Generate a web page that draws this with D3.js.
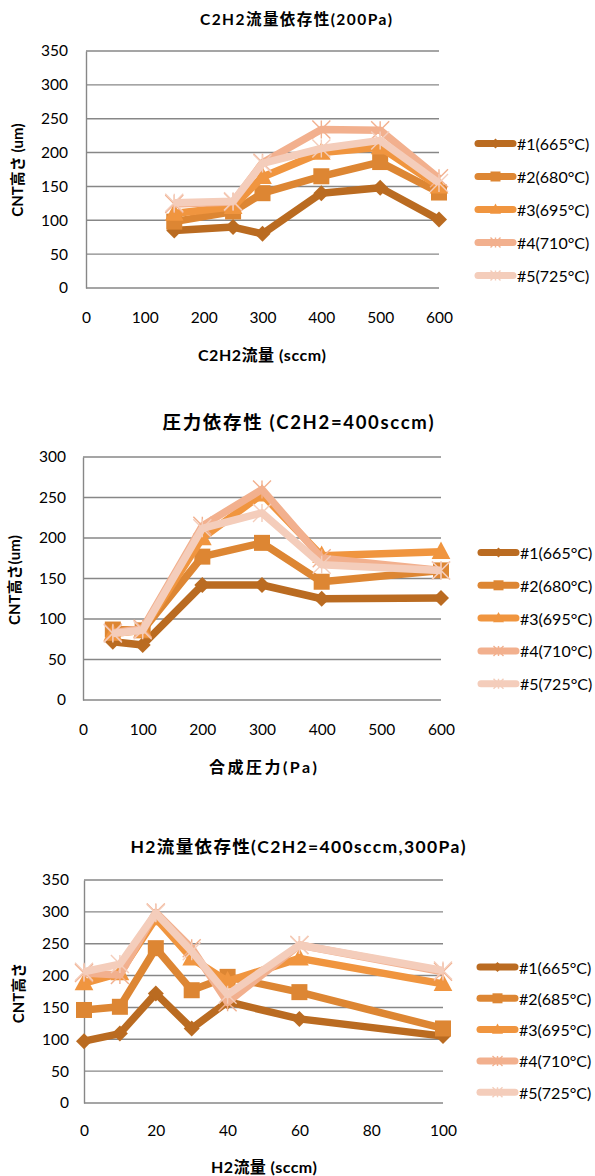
<!DOCTYPE html>
<html>
<head>
<meta charset="utf-8">
<script src="https://cdn.jsdelivr.net/npm/d3@7"></script>
<style>
  html, body { margin: 0; padding: 0; background: #fff; }
  svg { display: block; }
  text { font-family: "Lato", "Noto Sans CJK JP", sans-serif; fill: #000; }
</style>
</head>
<body>
<svg id="chart" width="595" height="1176"></svg>
<script>
// ---- Data ----
const seriesNames1 = ["#1(665°C)", "#2(680°C)", "#3(695°C)", "#4(710°C)", "#5(725°C)"];
const seriesNames3 = ["#1(665°C)", "#2(685°C)", "#3(695°C)", "#4(710°C)", "#5(725°C)"];
const seriesColors = ["#BA6B21", "#DD8633", "#F0953F", "#F2B08E", "#F4CDBB"];
const seriesMarkers = ["diamond", "square", "triangle", "star", "star"];

// Chart 1: C2H2 flow dependence (200Pa)
const flowC2H2 = [150, 250, 300, 400, 500, 600];
const flowS1 = [85, 90, 80, 140, 148, 101];
const flowS2 = [98, 113, 140, 165, 186, 141];
const flowS3 = [110, 120, 164, 200, 208, 150];
const flowS4 = [124, 127, 185, 234, 233, 162];
const flowS5 = [126, 128, 184, 206, 218, 155];
const flowXTicks = [0, 100, 200, 300, 400, 500, 600];
const flowYTicks = [0, 50, 100, 150, 200, 250, 300, 350];

// Chart 2: pressure dependence (C2H2=400sccm)
const pressure = [50, 100, 200, 300, 400, 600];
const presS1 = [72, 68, 142, 142, 125, 126];
const presS2 = [87, 86, 177, 194, 146, 160];
const presS3 = [82, 86, 200, 254, 178, 183];
const presS4 = [83, 88, 215, 260, 175, 160];
const presS5 = [82, 86, 212, 231, 167, 160];
const presXTicks = [0, 100, 200, 300, 400, 500, 600];
const presYTicks = [0, 50, 100, 150, 200, 250, 300];

// Chart 3: H2 flow dependence (C2H2=400sccm, 300Pa)
const flowH2 = [0, 10, 20, 30, 40, 60, 100];
const h2S1 = [97, 109, 172, 117, 159, 132, 105];
const h2S2 = [146, 151, 243, 177, 198, 174, 117];
const h2S3 = [188, 204, 290, 227, 191, 227, 187];
const h2S4 = [204, 201, 299, 243, 158, 248, 206];
const h2S5 = [206, 218, 298, 238, 170, 248, 208];
const h2XTicks = [0, 20, 40, 60, 80, 100];
const h2YTicks = [0, 50, 100, 150, 200, 250, 300, 350];

const svg = d3.select("#chart");

function drawMarker(g, type, color, s) {
  if (type === "diamond") {
    const r = s / 2;
    g.append("path").attr("d", `M0,${-r}L${r},0L0,${r}L${-r},0Z`).attr("fill", color);
  } else if (type === "square") {
    g.append("rect").attr("x", -s / 2).attr("y", -s / 2).attr("width", s).attr("height", s)
      .attr("fill", color);
  } else if (type === "triangle") {
    g.append("path").attr("d", `M0,${-s * 0.6}L${s * 0.55},${s * 0.42}L${-s * 0.55},${s * 0.42}Z`)
      .attr("fill", color);
  } else if (type === "star") {
    const r = s / 2;
    g.append("path")
      .attr("d", `M${-r},${-r}L${r},${r}M${-r},${r}L${r},${-r}M0,${-r}L0,${r}`)
      .attr("stroke", color).attr("stroke-width", 1.4).attr("fill", "none");
  }
}

const markerSize = { diamond: 16, square: 16, triangle: 17, star: 18 };

function drawChart(cfg) {
  const g = svg.append("g");
  const x = d3.scaleLinear().domain(cfg.xDomain).range([cfg.left, cfg.right]);
  const y = d3.scaleLinear().domain(cfg.yDomain).range([cfg.bottom, cfg.top]);

  // horizontal gridlines
  g.append("g").selectAll("line").data(cfg.yTicks).join("line")
    .attr("x1", cfg.left).attr("x2", cfg.right)
    .attr("y1", d => y(d)).attr("y2", d => y(d))
    .attr("stroke", "#878787").attr("stroke-width", 1.4);

  // y axis
  const yAxis = d3.axisLeft(y).tickValues(cfg.yTicks).tickSize(0).tickPadding(cfg.yPad);
  const ya = g.append("g").attr("transform", `translate(${cfg.left},0)`).call(yAxis);
  ya.select(".domain").attr("stroke", "#878787").attr("stroke-width", 1.4);
  ya.selectAll("text").attr("font-size", 15.5).attr("font-family", "Lato, sans-serif");

  // x axis (labels only; baseline is the 0 gridline)
  const xAxis = d3.axisBottom(x).tickValues(cfg.xTicks).tickSize(0).tickPadding(0);
  const xa = g.append("g").attr("transform", `translate(0,${cfg.xLabelY})`).call(xAxis);
  xa.select(".domain").remove();
  xa.selectAll("text").attr("font-size", 15.5).attr("dy", "0.35em").attr("font-family", "Lato, sans-serif");

  // titles
  g.append("text").attr("x", cfg.titleX).attr("y", cfg.titleY)
    .attr("text-anchor", "middle").attr("dominant-baseline", "central")
    .attr("font-weight", "bold").attr("font-size", cfg.titleSize)
    .attr("textLength", cfg.titleLen).attr("lengthAdjust", "spacing")
    .text(cfg.title);
  g.append("text").attr("x", cfg.xTitleX).attr("y", cfg.xTitleY)
    .attr("text-anchor", "middle").attr("dominant-baseline", "central")
    .attr("font-weight", "bold").attr("font-size", cfg.xTitleSize)
    .attr("textLength", cfg.xTitleLen).attr("lengthAdjust", "spacing")
    .text(cfg.xTitle);
  g.append("text")
    .attr("transform", `translate(${cfg.yTitleX},${cfg.yTitleY}) rotate(-90)`)
    .attr("text-anchor", "middle").attr("dominant-baseline", "central")
    .attr("font-weight", "bold").attr("font-size", 15)
    .text(cfg.yTitle);

  // series
  const line = d3.line().x(d => x(d[0])).y(d => y(d[1]));
  cfg.series.forEach((vals, i) => {
    const pts = cfg.xs.map((xv, j) => [xv, vals[j]]);
    const color = seriesColors[i];
    g.append("path").datum(pts).attr("d", line)
      .attr("fill", "none").attr("stroke", color).attr("stroke-width", 7.5)
      .attr("stroke-linejoin", "round");
    pts.forEach(p => {
      const m = g.append("g").attr("transform", `translate(${x(p[0])},${y(p[1])})`);
      drawMarker(m, seriesMarkers[i], color, markerSize[seriesMarkers[i]]);
    });
  });

  // legend
  cfg.names.forEach((name, i) => {
    const ly = cfg.legendY + i * cfg.legendStep;
    const color = seriesColors[i];
    const lg = g.append("g");
    lg.append("line").attr("x1", cfg.legendX).attr("x2", cfg.legendX + 35)
      .attr("y1", ly).attr("y2", ly)
      .attr("stroke", color).attr("stroke-width", 7).attr("stroke-linecap", "round");
    const m = lg.append("g").attr("transform", `translate(${cfg.legendX + 17.5},${ly})`);
    drawMarker(m, seriesMarkers[i], color, 10);
    lg.append("text").attr("x", cfg.legendX + 39).attr("y", ly)
      .attr("dominant-baseline", "central").attr("font-size", 16)
      .attr("font-family", "Lato, sans-serif")
      .text(name);
  });
}

drawChart({
  xDomain: [0, 600], yDomain: [0, 350],
  left: 86, right: 439, top: 51, bottom: 288,
  xs: flowC2H2, series: [flowS1, flowS2, flowS3, flowS4, flowS5],
  xTicks: flowXTicks, yTicks: flowYTicks, yPad: 18, xLabelY: 318,
  title: "C2H2流量依存性(200Pa)", titleX: 296, titleY: 19, titleSize: 15.5, titleLen: 192,
  xTitle: "C2H2流量 (sccm)", xTitleX: 262, xTitleY: 354, xTitleSize: 16, xTitleLen: 128,
  yTitle: "CNT高さ (um)", yTitleX: 17, yTitleY: 170,
  names: seriesNames1, legendX: 478, legendY: 143.5, legendStep: 33
});

drawChart({
  xDomain: [0, 600], yDomain: [0, 300],
  left: 83, right: 441, top: 457, bottom: 700,
  xs: pressure, series: [presS1, presS2, presS3, presS4, presS5],
  xTicks: presXTicks, yTicks: presYTicks, yPad: 17, xLabelY: 730,
  title: "圧力依存性 (C2H2=400sccm)", titleX: 298, titleY: 422, titleSize: 18.5, titleLen: 271,
  xTitle: "合成圧力(Pa)", xTitleX: 263, xTitleY: 766, xTitleSize: 16, xTitleLen: 108,
  yTitle: "CNT高さ(um)", yTitleX: 14, yTitleY: 580,
  names: seriesNames1, legendX: 481, legendY: 552.5, legendStep: 32.8
});

drawChart({
  xDomain: [0, 100], yDomain: [0, 350],
  left: 84, right: 443, top: 880, bottom: 1103,
  xs: flowH2, series: [h2S1, h2S2, h2S3, h2S4, h2S5],
  xTicks: h2XTicks, yTicks: h2YTicks, yPad: 15, xLabelY: 1131,
  title: "H2流量依存性(C2H2=400sccm,300Pa)", titleX: 298, titleY: 846, titleSize: 17.5, titleLen: 335,
  xTitle: "H2流量 (sccm)", xTitleX: 264, xTitleY: 1166, xTitleSize: 16, xTitleLen: 106,
  yTitle: "CNT高さ", yTitleX: 18, yTitleY: 993,
  names: seriesNames3, legendX: 480, legendY: 967, legendStep: 31.3
});
</script>
</body>
</html>
